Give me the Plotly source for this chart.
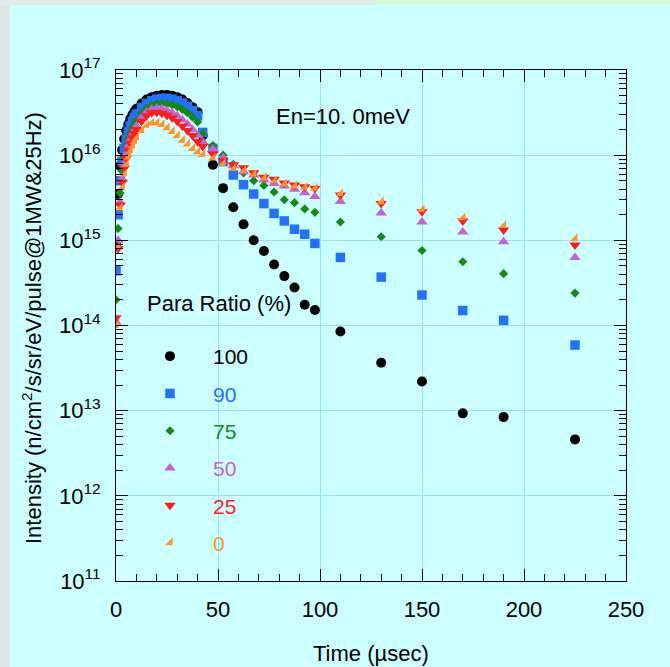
import plotly.graph_objects as go

# ---------------- data ----------------
time_us = [0, 1, 2, 3, 4, 5, 6, 7, 8, 9, 10,
           12.5, 15, 17.5, 20, 22.5, 25, 27.5, 30, 32.5, 35, 37.5, 40, 42.5,
           47.5, 52.5, 57.5, 62.5, 67.5, 72.5, 77.5, 82.5, 87.5, 92.5, 97.5,
           110, 130, 150, 170, 190, 225]

para_100 = [9.0e14, 3.5e15, 7.5e15, 1.15e16, 1.55e16, 1.95e16, 2.3e16, 2.65e16, 2.95e16, 3.25e16, 3.5e16,
            4.05e16, 4.5e16, 4.8e16, 5.0e16, 5.1e16, 5.1e16, 5.0e16, 4.8e16, 4.5e16, 4.1e16, 3.65e16, 3.2e16, 1.7e16,
            7.7e15, 4.1e15, 2.45e15, 1.54e15, 1.0e15, 7.5e14, 5.2e14, 3.8e14, 2.8e14, 1.75e14, 1.52e14,
            8.5e13, 3.65e13, 2.2e13, 9.3e12, 8.4e12, 4.6e12]

para_90 = [4.4e14, 2.0e15, 5.0e15, 8.5e15, 1.2e16, 1.55e16, 1.88e16, 2.2e16, 2.5e16, 2.78e16, 3.05e16,
           3.6e16, 4.05e16, 4.35e16, 4.55e16, 4.65e16, 4.65e16, 4.55e16, 4.35e16, 4.1e16, 3.75e16, 3.35e16, 2.9e16, 1.85e16,
           1.2e16, 8.4e15, 5.85e15, 4.5e15, 3.5e15, 2.7e15, 2.07e15, 1.69e15, 1.35e15, 1.18e15, 9.2e14,
           6.3e14, 3.7e14, 2.28e14, 1.5e14, 1.15e14, 5.9e13]

para_75 = [2.0e14, 1.38e15, 3.6e15, 6.5e15, 9.5e15, 1.25e16, 1.55e16, 1.82e16, 2.08e16, 2.33e16, 2.55e16,
           3.1e16, 3.55e16, 3.85e16, 4.0e16, 4.05e16, 4.0e16, 3.9e16, 3.7e16, 3.45e16, 3.15e16, 2.8e16, 2.45e16, 1.8e16,
           1.3e16, 1.0e16, 7.8e15, 6.2e15, 5.0e15, 4.4e15, 3.7e15, 3.0e15, 2.77e15, 2.33e15, 2.13e15,
           1.64e15, 1.1e15, 7.6e14, 5.6e14, 4.06e14, 2.4e14]

para_50 = [1.1e14, 1.0e15, 2.8e15, 5.2e15, 7.8e15, 1.03e16, 1.28e16, 1.52e16, 1.75e16, 1.98e16, 2.2e16,
           2.75e16, 3.2e16, 3.45e16, 3.55e16, 3.5e16, 3.35e16, 3.15e16, 2.9e16, 2.6e16, 2.3e16, 2.0e16, 1.7e16, 1.44e16,
           1.17e16, 9.3e15, 7.5e15, 6.4e15, 5.85e15, 5.1e15, 4.65e15, 4.35e15, 3.97e15, 3.63e15, 3.26e15,
           2.85e15, 2.1e15, 1.64e15, 1.25e15, 9.6e14, 6.3e14]

para_25 = [1.23e14, 8.0e14, 2.6e15, 4.8e15, 7.0e15, 9.2e15, 1.15e16, 1.38e16, 1.6e16, 1.8e16, 2.0e16,
           2.5e16, 2.9e16, 3.15e16, 3.2e16, 3.1e16, 2.95e16, 2.75e16, 2.5e16, 2.2e16, 1.95e16, 1.7e16, 1.45e16, 1.26e16,
           1.03e16, 8.6e15, 7.7e15, 7.1e15, 6.2e15, 5.5e15, 5.2e15, 4.7e15, 4.47e15, 4.27e15, 4.1e15,
           3.4e15, 2.7e15, 2.17e15, 1.69e15, 1.32e15, 8.8e14]

para_0 = [1.0e14, 8.5e14, 2.4e15, 4.2e15, 6.0e15, 7.8e15, 9.5e15, 1.12e16, 1.28e16, 1.45e16, 1.6e16,
          1.95e16, 2.25e16, 2.4e16, 2.4e16, 2.3e16, 2.1e16, 1.9e16, 1.7e16, 1.5e16, 1.35e16, 1.2e16, 1.1e16, 1.02e16,
          9.3e15, 8.0e15, 7.0e15, 6.6e15, 6.0e15, 5.4e15, 5.0e15, 4.6e15, 4.35e15, 4.2e15, 4.1e15,
          3.55e15, 2.85e15, 2.3e15, 1.85e15, 1.5e15, 1.05e15]

series_labels = ["100", "90", "75", "50", "25", "0"]
series_values = [para_100, para_90, para_75, para_50, para_25, para_0]
series_colors = ["#000000", "#2272ff", "#138a13", "#c462d8", "#ff1c1c", "#ff9328"]
series_symbols = ["circle", "square", "diamond", "triangle-up", "triangle-down", "triangle-se"]
series_sizes = [10, 9.5, 7, 10, 10, 8.5]

y_tick_vals = [1e11, 1e12, 1e13, 1e14, 1e15, 1e16, 1e17]
y_tick_text = ["10<sup>11</sup>", "10<sup>12</sup>", "10<sup>13</sup>", "10<sup>14</sup>",
               "10<sup>15</sup>", "10<sup>16</sup>", "10<sup>17</sup>"]
x_tick_vals = [0, 50, 100, 150, 200, 250]

FONT = "Liberation Sans, Arial, Helvetica, sans-serif"
BG = "#ccffff"
GRID = "#9be4ee"

fig = go.Figure()
for lab, vals, col, sym, sz in zip(series_labels, series_values, series_colors, series_symbols, series_sizes):
    fig.add_trace(go.Scatter(
        x=time_us, y=vals, mode="markers",
        name='<span style="color:%s">%s</span>' % (col, lab),
        legendgroup=lab,
        marker=dict(symbol=sym, size=sz, color=col, line=dict(width=0)),
    ))

axis_common = dict(
    showline=True, linecolor="black", linewidth=1, mirror="ticks",
    ticks="inside", tickcolor="black", tickwidth=1, ticklen=12,
    showgrid=True, gridcolor=GRID, gridwidth=1, zeroline=False,
    tickfont=dict(family=FONT, size=22, color="black"),
)

fig.update_xaxes(range=[0, 250], tickmode="array", tickvals=x_tick_vals,
                 minor=dict(ticks="inside", ticklen=7, tickcolor="black", dtick=10, tick0=0, showgrid=False),
                 ticklabelstandoff=9, **axis_common)
fig.update_yaxes(type="log", range=[11, 17], tickmode="array", tickvals=y_tick_vals, ticktext=y_tick_text,
                 minor=dict(ticks="inside", ticklen=7, tickcolor="black", dtick="D1", showgrid=False),
                 ticklabelstandoff=10, **axis_common)

W, H = 670, 667
L, R, T, B = 116, 44, 70, 86
pw, ph = W - L - R, H - T - B


def px_x(px):
    return (px - L) / pw


def px_y(py):
    return (H - B - py) / ph


annotations = [
    dict(text="Intensity (n/cm<sup>2</sup>/s/sr/eV/pulse@1MW&amp;25Hz)", textangle=-90,
         x=px_x(32), y=px_y(328), xref="paper", yref="paper", showarrow=False,
         xanchor="center", yanchor="middle", font=dict(family=FONT, size=22, color="black")),
    dict(text="Time (\u00b5sec)", x=px_x(371), y=px_y(653), xref="paper", yref="paper", showarrow=False,
         xanchor="center", yanchor="middle", font=dict(family=FONT, size=22, color="black")),
    dict(text="En=10. 0meV", x=px_x(343), y=px_y(116), xref="paper", yref="paper", showarrow=False,
         xanchor="center", yanchor="middle", font=dict(family=FONT, size=22, color="black")),
    dict(text="Para Ratio (%)", x=px_x(145), y=px_y(303), xref="paper", yref="paper", showarrow=False,
         xanchor="left", yanchor="middle", font=dict(family=FONT, size=22, color="black")),
]

shapes = [
    dict(type="rect", xref="paper", yref="paper", x0=px_x(0), x1=px_x(10), y0=px_y(H), y1=px_y(0),
         fillcolor="#dde7e6", line=dict(width=0), layer="below"),
    dict(type="rect", xref="paper", yref="paper", x0=px_x(0), x1=px_x(376), y0=px_y(5), y1=px_y(0),
         fillcolor="#e2ecec", line=dict(width=0), layer="below"),
    dict(type="rect", xref="paper", yref="paper", x0=px_x(376), x1=px_x(W), y0=px_y(4), y1=px_y(0),
         fillcolor="#d6fcd6", line=dict(width=0), layer="below"),
]

fig.update_layout(
    width=W, height=H,
    margin=dict(l=L, r=R, t=T, b=B, autoexpand=False),
    paper_bgcolor=BG, plot_bgcolor=BG,
    font=dict(family=FONT, color="black"),
    showlegend=True,
    legend=dict(x=px_x(127), y=px_y(336), xanchor="left", yanchor="top",
                bgcolor="rgba(0,0,0,0)", borderwidth=0,
                font=dict(family=FONT, size=21),
                itemwidth=76, tracegroupgap=7, traceorder="grouped"),
    annotations=annotations,
    shapes=shapes,
)

fig.write_html("out.html")
